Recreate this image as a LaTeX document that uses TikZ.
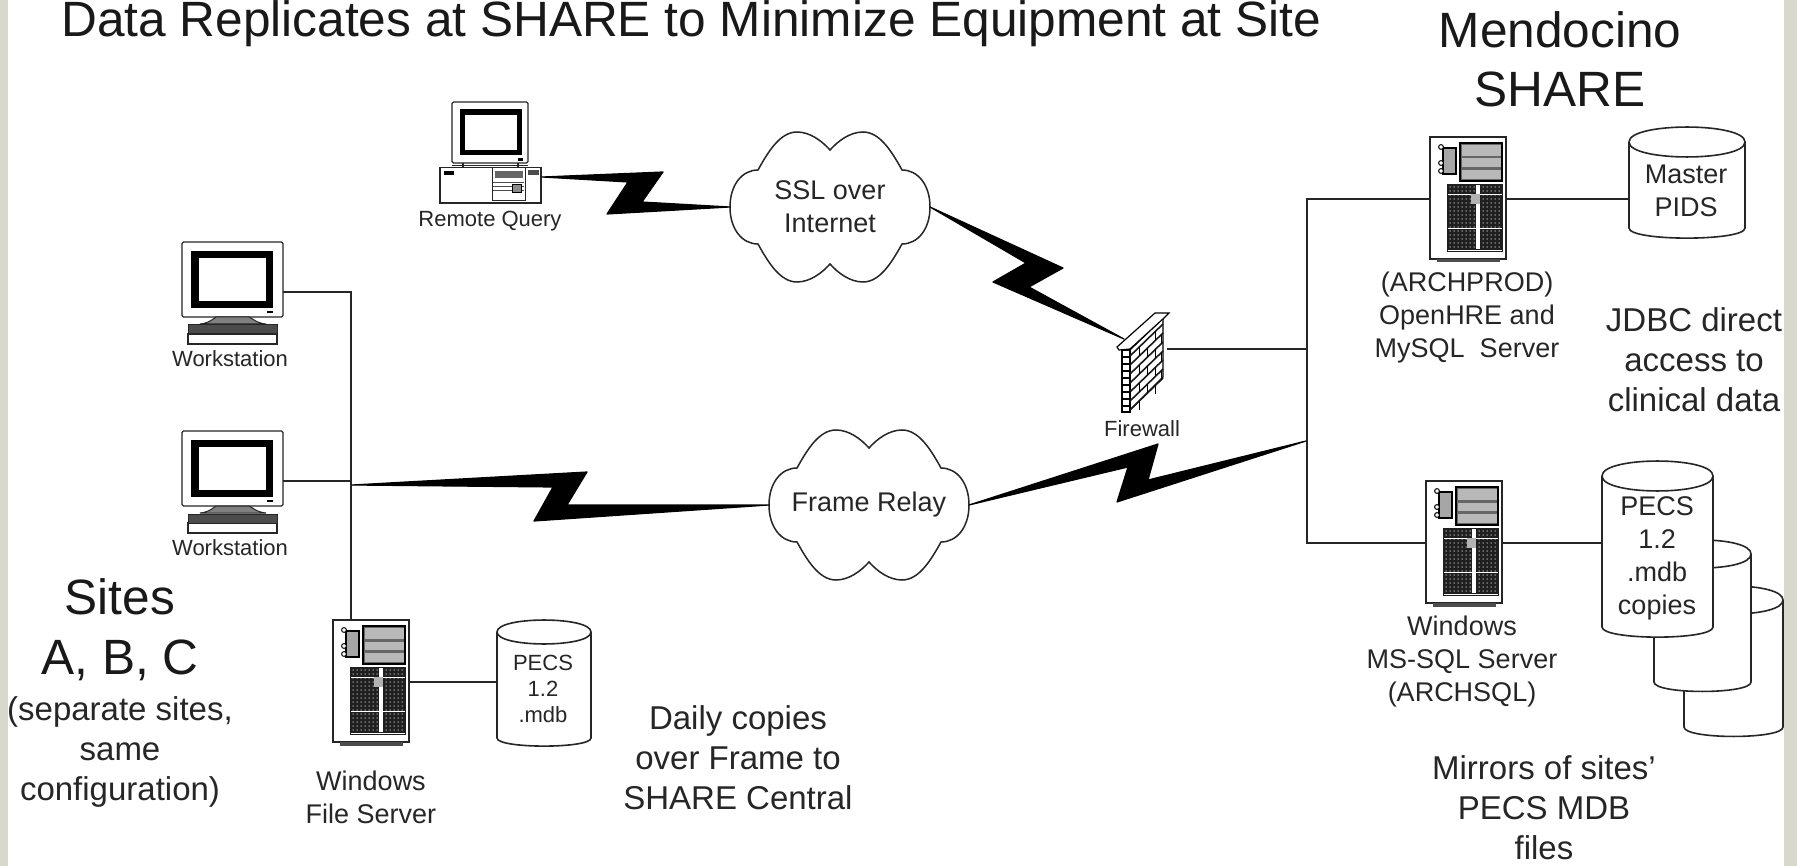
\documentclass[tikz,border=0pt]{standalone}
\usepackage{fontspec}
\setmainfont{Liberation Sans}
\newcommand{\fsz}[2]{\fontsize{#1}{#2}\selectfont}
\tikzset{
  x=1pt,y=-1pt,
  wire/.style={draw=black!85,line width=1.5pt},
  icon/.style={draw=black!85,line width=1.3pt,fill=white},
  bolt/.style={fill=black,draw=black,line width=1.2pt,line join=round},
  lab/.style={inner sep=0pt,align=center,text=black!85},
  small/.style={lab,font=\fsz{22}{26}},
  mid/.style={lab,font=\fsz{27}{33}},
  big/.style={lab,font=\fsz{33}{40}},
  huge/.style={lab,font=\fsz{49.6}{59},text=black!90},
  pics/cloud/.style={code={
    \path[icon,line width=1.5pt] (-100,0) .. controls (-100,-22) and (-88,-37) .. (-72,-37)
      .. controls (-62,-55) and (-50,-75) .. (-33,-75)
      .. controls (-20,-75) and (-8,-66) .. (0,-57)
      .. controls (8,-66) and (20,-75) .. (33,-75)
      .. controls (50,-75) and (62,-55) .. (72,-37)
      .. controls (88,-37) and (100,-22) .. (100,0)
      .. controls (100,22) and (88,37) .. (72,37)
      .. controls (62,55) and (50,75) .. (33,75)
      .. controls (20,75) and (8,66) .. (0,57)
      .. controls (-8,66) and (-20,75) .. (-33,75)
      .. controls (-50,75) and (-62,55) .. (-72,37)
      .. controls (-88,37) and (-100,22) .. (-100,0) -- cycle;
    \coordinate (-w) at (-100,0);
    \coordinate (-e) at (100,0);
  }},
  pics/cyl/.style n args={3}{code={
    \path[icon,line width=1.6pt] (0,#3) -- (0,#2-#3)
      .. controls (0,#2-#3*.1) and (#1,#2-#3*.1) .. (#1,#2-#3) -- (#1,#3)
      .. controls (#1,-#3*.33) and (0,-#3*.33) .. (0,#3)
      .. controls (0,#3*2.33) and (#1,#3*2.33) .. (#1,#3);
    \coordinate (-nw) at (0,0);
    \coordinate (-ne) at (#1,0);
  }},
  pics/server/.style={code={
    \path[icon] (0,0) rectangle (76,122);
    \fill[black!70] (7,122) rectangle (70,125.5);
    % drive bays
    \path[draw=black,line width=1.4pt,fill=black!60] (30,6) rectangle (72,44);
    \foreach \a/\b in {8/19,21.5/30,33/42}{\fill[black!28] (31.5,\a) rectangle (70.5,\b);}
    % handle block
    \path[draw=black,line width=1.1pt,fill=black!35] (13,11) rectangle (26,37);
    \foreach \a in {10,26,34}{\draw[black,line width=1pt,fill=white] (11,\a) circle[radius=2.4];}
    % vent panel
    \fill[black!88] (17,47) rectangle (73,115);
    \foreach \yy in {50,54,...,112}{
      \foreach \xx in {20,24,...,44,53,57,...,71}{\fill[white!70!black] (\xx,\yy) circle[radius=.75];}}
    \foreach \yy in {57,91}{\draw[white,line width=.8pt] (18,\yy) -- (72,\yy);}
    \draw[white,line width=.8pt] (18,113) -- (72,113);
    \fill[white] (46,48) rectangle (50,112);
    \fill[black!30] (41,57) rectangle (50,67);
    \coordinate (-w) at (0,62);
    \coordinate (-e) at (76,62);
    \coordinate (-n) at (18,0);
  }},
  pics/workstation/.style={code={
    \path[icon,rounded corners=1.5pt] (0,0) rectangle (101,75);
    \path[fill=black] (9,9) rectangle (91,66);
    \path[fill=white] (17,16) rectangle (84,59);
    \fill[black] (85,69) rectangle (91,71);
    \path[draw=black!85,line width=1pt,fill=black!50] (18,82) .. controls (28,81) and (32,76) .. (34,75)
       -- (67,75) .. controls (70,76) and (74,81) .. (84,82) -- cycle;
    \path[icon] (6,92) rectangle (95,102);
    \path[draw=black!85,line width=1pt,fill=black!70] (6,83) rectangle (95,92);
    \coordinate (-e) at (101,50);
  }},
  pics/desktop/.style={code={
    \path[icon,rounded corners=1.5pt] (12,0) rectangle (88,61);
    \path[fill=black] (20,7) rectangle (82,53);
    \path[fill=white] (25,13) rectangle (77,48);
    \fill[black] (78,56) rectangle (83,59);
    \draw[black!85,line width=1.2pt] (23,61) -- (23,65) (78,61) -- (78,65);
    \draw[black!85,line width=1pt] (12,64) -- (88,64);
    \path[icon] (0,65.5) rectangle (101,101);
    \fill[black] (4,69) rectangle (14,73);
    \path[draw=black!85,line width=1pt,fill=white] (52,66) rectangle (85,99);
    \fill[black!60] (55,69) rectangle (83,76);
    \draw[black!70,line width=1pt] (53,81) -- (84,81) (53,85) -- (84,85) (53,89) -- (84,89);
    \path[draw=black,line width=.8pt,fill=black!45] (72,82) rectangle (81,90);
    \fill[black!70] (88,68) rectangle (99,73);
    \coordinate (-e) at (102,75);
  }},
  pics/firewall/.style={code={
    % wall
    \path[draw=black,line width=1.2pt,fill=white] (13,37) -- (46,5) -- (46,64) -- (13,97) -- cycle;
    \path[draw=black,line width=1.2pt,fill=white] (5,37) rectangle (13,99);
    \foreach \k in {0,1,...,6}{
      \draw[black!90,line width=1.6pt] (13,{43+\k*9}) -- (46,{11+\k*9});}
    \foreach \k in {0,2,4,6}{
      \draw[black,line width=1pt] (22,{34+\k*9}) -- (22,{43+\k*9}) (38,{18+\k*9}) -- (38,{27+\k*9});}
    \foreach \k in {1,3,5}{
      \draw[black,line width=1pt] (30,{26+\k*9}) -- (30,{35+\k*9}) (44,{13+\k*9}) -- (44,{22+\k*9});}
    \foreach \k in {1,...,8}{\draw[black,line width=1.2pt] (5,{37+\k*7}) -- (13,{37+\k*7});}
    \path[draw=black,line width=1.2pt,fill=white] (0,34) -- (38,0) -- (52,0) -- (47,5) -- (13,36) -- (2,37) -- cycle;
    \coordinate (-nw) at (7,26);
    \coordinate (-e) at (50,36);
  }},
}
\begin{document}
\begin{tikzpicture}
\useasboundingbox (0,0) rectangle (1797,866);
\fill[fill={rgb,255:red,216;green,216;blue,204}] (0,0) rectangle (1797,866);
\fill[white] (8,0) rectangle (1784,866);

% coordinates of the buses
\coordinate (busL) at (351,292);
\coordinate (busR) at (1307,199);
\coordinate (frL) at (352,485);
\coordinate (frR) at (1306,441);

% icons
\pic (rq) at (440,102) {desktop};
\pic (w1) at (182,242) {workstation};
\pic (w2) at (182,431) {workstation};
\pic (fs) at (333,620) {server};
\pic (ap) at (1430,137) {server};
\pic (as) at (1426,481) {server};
\pic (db1) at (497,620) {cyl={94}{130}{12}};
\pic (mp) at (1629,127) {cyl={116}{116}{15}};
\pic (c3) at (1684,586) {cyl={99}{155}{14}};
\pic (c2) at (1654,540) {cyl={97}{156}{14}};
\pic (c1) at (1602,461) {cyl={111}{181}{15}};
\pic (ssl) at (830,207) {cloud};
\pic (fr) at (869,505) {cloud};
\pic (fw) at (1117,313) {firewall};

% wires
\draw[wire] (w1-e) -- (w1-e -| busL) -- (fs-n);
\draw[wire] (w2-e) -- (w2-e -| busL);
\draw[wire] (fs-e) -- (fs-e -| db1-nw);
\draw[wire] (fw-e) -- (fw-e -| busR);
\draw[wire] (ap-w) -- (busR) -- (busR |- as-w) -- (as-w);
\draw[wire] (ap-e) -- (ap-e -| mp-nw);
\draw[wire] (as-e) -- (as-e -| c1-nw);

% lightning links
\path[bolt] (rq-e) -- (663,172) -- (642,202) -- (ssl-w) -- (607,214) -- (628,182) -- cycle;
\path[bolt] (ssl-e) -- (1063,268) -- (1029,287) -- (fw-nw) -- (993,282) -- (1026,263) -- cycle;
\path[bolt] (frL) -- (587,472) -- (567,505) -- (fr-w) -- (534,521) -- (553,487) -- cycle;
\path[bolt] (fr-e) -- (1158,444) -- (1148,480) -- (frR) -- (1117,502) -- (1128,467) -- cycle;

% labels
\node[huge,anchor=base west] (title) at (61,37) {Data Replicates at SHARE to Minimize Equipment at Site};
\node[huge] (mendo) at (1560,59) {Mendocino\\SHARE};
\node[small] (lrq) at (490,221) {Remote Query};
\node[small] (lw1) at (230,359) {Workstation};
\node[small] (lw2) at (230,548) {Workstation};
\node[small] (lfw) at (1142,429) {Firewall};
\node[mid] (lssl) at (830,207) {SSL over\\Internet};
\node[mid] (lfr) at (869,505) {Frame Relay};
\node[small] (ldb1) at (543,689) {PECS\\1.2\\.mdb};
\node[mid] (lfs) at (371,797) {Windows\\File Server};
\node[big] (ldaily) at (738,758) {Daily copies\\over Frame to\\SHARE Central};
\node[huge,font=\fsz{49.6}{60}] (lsites) at (120,630) {Sites\\A, B, C};
\node[big] (lsep) at (120,752) {(separate sites,\\same\\configuration)};
\node[mid] (lap) at (1467,318) {(ARCHPROD)\\OpenHRE and\\MySQL\ \ Server};
\node[mid] (lmp) at (1686,191) {Master\\PIDS};
\node[big] (ljdbc) at (1694,360) {JDBC direct\\access to\\clinical data};
\node[mid] (las) at (1462,662) {Windows\\MS-SQL Server\\(ARCHSQL)};
\node[mid] (lc1) at (1657,558) {PECS\\1.2\\.mdb\\copies};
\node[big] (lmir) at (1544,808) {Mirrors of sites'\\PECS MDB\\files};
\end{tikzpicture}
\end{document}
